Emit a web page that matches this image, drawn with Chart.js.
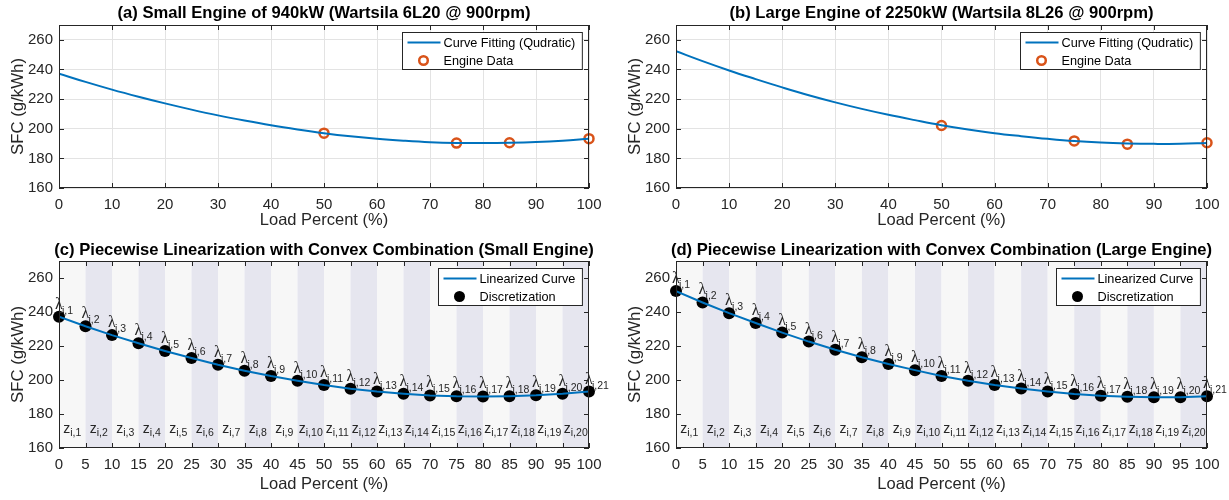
<!DOCTYPE html>
<html>
<head>
<meta charset="utf-8">
<script src="https://cdn.jsdelivr.net/npm/chart.js@4.4.1/dist/chart.umd.min.js"></script>
<style>
  body { margin: 0; background: #fff; overflow: hidden; }
  #wrap { position: relative; width: 1229px; height: 500px; }
  .cell { position: absolute; }
</style>
</head>
<body>
<div id="wrap">
  <div class="cell" style="left:0;top:0"><canvas id="chartA" width="614" height="238"></canvas></div>
  <div class="cell" style="left:614px;top:0"><canvas id="chartB" width="615" height="238"></canvas></div>
  <div class="cell" style="left:0;top:238px"><canvas id="chartC" width="614" height="262"></canvas></div>
  <div class="cell" style="left:614px;top:238px"><canvas id="chartD" width="615" height="262"></canvas></div>
</div>
<script>
// load steps used for the piecewise points (%)
var loadPct = [0, 5, 10, 15, 20, 25, 30, 35, 40, 45, 50, 55, 60, 65, 70, 75, 80, 85, 90, 95, 100];
// SFC (g/kWh)
var sfcSmall = [237.2, 231.6, 226.4, 221.6, 217.1, 212.9, 209.0, 205.5, 202.3, 199.5, 197.0,
                194.9, 193.2, 191.9, 190.9, 190.4, 190.3, 190.5, 191.0, 191.9, 193.2];
var sfcLarge = [252.3, 245.6, 239.3, 233.5, 227.9, 222.6, 217.8, 213.4, 209.4, 205.8, 202.4,
                199.5, 197.0, 195.0, 193.2, 191.7, 190.7, 190.1, 189.8, 189.8, 190.4];
// engine data points
var engineLoad = [50, 75, 85, 100];
var engineSmall = [197.0, 190.3, 190.5, 193.3];
var engineLarge = [202.2, 191.8, 189.6, 190.5];
var yTicks = [160, 180, 200, 220, 240, 260];

var blue = '#0072BD', orange = '#D95319', ink = '#262626';
var bandLight = '#f7f7f7', bandDark = '#e6e6ef';

Chart.defaults.font.family = '"Liberation Sans", Arial, sans-serif';
Chart.defaults.color = ink;

function pts(xs, ys) {
  return xs.map(function(x, i) { return { x: x, y: ys[i] }; });
}

var matlabLook = {
  id: 'matlabLook',
  beforeDatasetsDraw: function(chart, args, o) {
    var ctx = chart.ctx, a = chart.chartArea, xs = chart.scales.x, ys = chart.scales.y;
    if (!o.bands) return;
    ctx.save();
    for (var i = 0; i < loadPct.length - 1; i++) {
      var x0 = xs.getPixelForValue(loadPct[i]), x1 = xs.getPixelForValue(loadPct[i + 1]);
      ctx.fillStyle = i % 2 ? bandDark : bandLight;
      ctx.fillRect(x0, a.top, x1 - x0, a.bottom - a.top);
    }
    ctx.fillStyle = ink;
    ctx.textBaseline = 'alphabetic';
    ctx.textAlign = 'left';
    // z labels in every band
    var zy = ys.getPixelForValue(168.6);
    for (i = 0; i < loadPct.length - 1; i++) {
      var cx = (xs.getPixelForValue(loadPct[i]) + xs.getPixelForValue(loadPct[i + 1])) / 2;
      var sub = 'i,' + (i + 1);
      ctx.font = '14px "Liberation Sans"';
      var wz = ctx.measureText('z').width;
      ctx.font = '10.5px "Liberation Sans"';
      var ws = ctx.measureText(sub).width;
      var sx = cx - (wz + ws) / 2;
      ctx.font = '14px "Liberation Sans"';
      ctx.fillText('z', sx, zy);
      ctx.font = '10.5px "Liberation Sans"';
      ctx.fillText(sub, sx + wz, zy + 3);
    }
    // lambda labels at each breakpoint
    var vals = o.values;
    for (i = 0; i < loadPct.length; i++) {
      var px = xs.getPixelForValue(loadPct[i]), py = ys.getPixelForValue(vals[i]);
      ctx.font = '16px "Liberation Serif"';
      ctx.fillText('\u03bb', px - 4, py - 8);
      ctx.font = '10.5px "Liberation Sans"';
      ctx.fillText('i,' + (i + 1), px + 3, py - 3);
    }
    ctx.restore();
  },
  afterDatasetsDraw: function(chart, args, o) {
    var ctx = chart.ctx, a = chart.chartArea, xs = chart.scales.x, ys = chart.scales.y;
    ctx.save();
    // box and inward ticks
    ctx.strokeStyle = ink;
    ctx.lineWidth = 1;
    ctx.strokeRect(a.left + 0.5, a.top + 0.5, a.right - a.left - 1, a.bottom - a.top - 1);
    ctx.beginPath();
    xs.ticks.forEach(function(t) {
      var p = Math.round(xs.getPixelForValue(t.value)) + 0.5;
      ctx.moveTo(p, a.bottom); ctx.lineTo(p, a.bottom - 5);
      ctx.moveTo(p, a.top); ctx.lineTo(p, a.top + 5);
    });
    ys.ticks.forEach(function(t) {
      var p = Math.round(ys.getPixelForValue(t.value)) + 0.5;
      ctx.moveTo(a.left, p); ctx.lineTo(a.left + 5, p);
      ctx.moveTo(a.right, p); ctx.lineTo(a.right - 5, p);
    });
    ctx.stroke();

    // legend box
    ctx.font = '12.7px "Liberation Sans"';
    var tw = 0;
    o.legend.forEach(function(it) { tw = Math.max(tw, ctx.measureText(it.label).width); });
    var bw = tw + 48, bh = 37;
    var bx = Math.round(a.right - 7 - bw) + 0.5, by = Math.round(a.top + 7) + 0.5;
    ctx.fillStyle = '#fff';
    ctx.fillRect(bx, by, bw, bh);
    ctx.strokeRect(bx, by, bw, bh);
    o.legend.forEach(function(it, k) {
      var ry = by + 10 + k * 18;
      if (it.kind === 'line') {
        ctx.strokeStyle = blue; ctx.lineWidth = 2;
        ctx.beginPath(); ctx.moveTo(bx + 5, ry); ctx.lineTo(bx + 38, ry); ctx.stroke();
      } else if (it.kind === 'ring') {
        ctx.strokeStyle = orange; ctx.lineWidth = 2.5;
        ctx.beginPath(); ctx.arc(bx + 21, ry, 4.3, 0, Math.PI * 2); ctx.stroke();
      } else {
        ctx.fillStyle = '#000';
        ctx.beginPath(); ctx.arc(bx + 21, ry, 5.5, 0, Math.PI * 2); ctx.fill();
      }
      ctx.fillStyle = '#000';
      ctx.textAlign = 'left'; ctx.textBaseline = 'middle';
      ctx.fillText(it.label, bx + 41, ry + 1);
    });

    // title centred over the axes
    ctx.fillStyle = '#000';
    ctx.font = 'bold 16.6px "Liberation Sans"';
    ctx.textAlign = 'center'; ctx.textBaseline = 'middle';
    ctx.fillText(o.title, (a.left + a.right) / 2, a.top - o.titleGap);
    ctx.restore();
  }
};

function makeChart(id, cfg) {
  var bottomRow = cfg.bands;
  var datasets;
  if (!bottomRow) {
    datasets = [
      { data: pts(loadPct, cfg.values), borderColor: blue, borderWidth: 2, pointRadius: 0, tension: 0.4, fill: false },
      { data: pts(engineLoad, cfg.engine), showLine: false, pointRadius: 4.5, pointBorderWidth: 2.5,
        pointBorderColor: orange, pointBackgroundColor: 'rgba(0,0,0,0)', clip: false }
    ];
  } else {
    datasets = [
      { data: pts(loadPct, cfg.values), borderColor: blue, borderWidth: 2, pointRadius: 0, tension: 0, fill: false },
      { data: pts(loadPct, cfg.values), showLine: false, pointRadius: 6, pointBorderWidth: 0,
        pointBackgroundColor: '#000', pointBorderColor: '#000', clip: false }
    ];
  }
  return new Chart(document.getElementById(id), {
    type: 'line',
    data: { datasets: datasets },
    plugins: [matlabLook],
    options: {
      responsive: false,
      animation: false,
      devicePixelRatio: 1,
      layout: { padding: { left: 0, right: cfg.padRight, top: cfg.padTop, bottom: 0 } },
      plugins: {
        legend: { display: false },
        tooltip: { enabled: false },
        matlabLook: { title: cfg.title, legend: cfg.legend, bands: cfg.bands, values: cfg.values,
                      titleGap: bottomRow ? 11 : 12 }
      },
      scales: {
        x: {
          type: 'linear', min: 0, max: 100,
          ticks: { stepSize: bottomRow ? 5 : 10, autoSkip: false, maxRotation: 0, color: ink,
                   font: { size: 15 }, padding: 8 },
          grid: { display: !bottomRow, color: '#e3e3e3', drawTicks: false },
          border: { display: false },
          title: { display: true, text: 'Load Percent (%)', color: ink, font: { size: 16.5 },
                   padding: { top: 0, bottom: bottomRow ? 6 : 8 } },
          afterFit: function(s) { s.height = cfg.xHeight; }
        },
        y: {
          min: 160, max: 270,
          afterBuildTicks: function(s) { s.ticks = yTicks.map(function(v) { return { value: v }; }); },
          ticks: { color: ink, font: { size: 15 }, padding: 6 },
          grid: { display: !bottomRow, color: '#e3e3e3', drawTicks: false },
          border: { display: false },
          title: { display: true, text: 'SFC (g/kWh)', color: ink, font: { size: 16.8 },
                   padding: { top: cfg.yTitlePad, bottom: 0 } },
          afterFit: function(s) { s.width = cfg.yWidth; }
        }
      }
    }
  });
}

var topLegend = [{ label: 'Curve Fitting (Qudratic)', kind: 'line' }, { label: 'Engine Data', kind: 'ring' }];
var botLegend = [{ label: 'Linearized Curve', kind: 'line' }, { label: 'Discretization', kind: 'dot' }];

makeChart('chartA', { title: '(a) Small Engine of 940kW (Wartsila 6L20 @ 900rpm)', values: sfcSmall, engine: engineSmall,
  legend: topLegend, bands: false, padRight: 25, padTop: 25, xHeight: 50, yWidth: 59, yTitlePad: 8 });
makeChart('chartB', { title: '(b) Large Engine of 2250kW (Wartsila 8L26 @ 900rpm)', values: sfcLarge, engine: engineLarge,
  legend: topLegend, bands: false, padRight: 22, padTop: 25, xHeight: 50, yWidth: 62, yTitlePad: 11 });
makeChart('chartC', { title: '(c) Piecewise Linearization with Convex Combination (Small Engine)', values: sfcSmall,
  legend: botLegend, bands: true, padRight: 25, padTop: 23, xHeight: 52, yWidth: 59, yTitlePad: 8 });
makeChart('chartD', { title: '(d) Piecewise Linearization with Convex Combination (Large Engine)', values: sfcLarge,
  legend: botLegend, bands: true, padRight: 22, padTop: 23, xHeight: 52, yWidth: 62, yTitlePad: 11 });
</script>
</body>
</html>
